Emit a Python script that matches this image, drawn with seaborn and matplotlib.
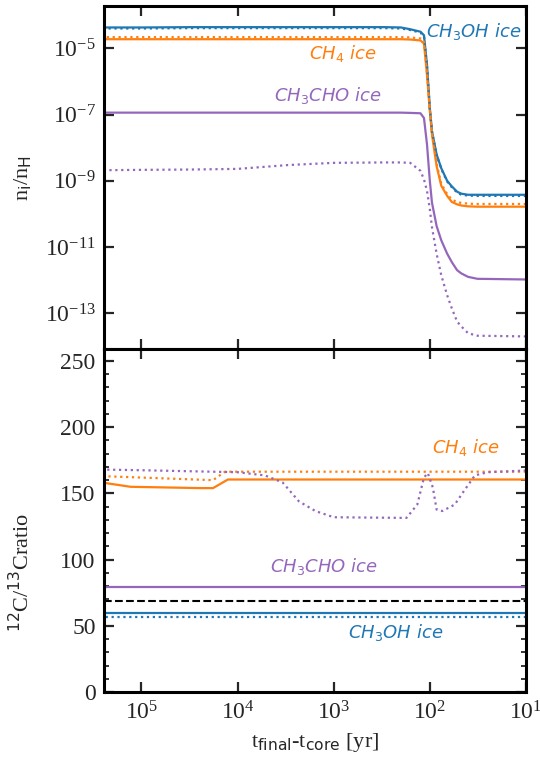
import matplotlib
matplotlib.use("Agg")
import matplotlib.pyplot as plt
import seaborn as sns
from matplotlib.ticker import FixedLocator, NullLocator, MultipleLocator

# ---- abundances relative to H (top panel) ----
t_abund = [2.45e5, 1e5, 3e4, 1e4, 3e3, 1e3, 300, 200, 160, 125, 115, 107,
           100, 95, 85, 76, 66, 59, 52, 47, 40, 32, 10]

ch3oh_a = [4.3e-5, 4.3e-5, 4.4e-5, 4.4e-5, 4.4e-5, 4.4e-5, 4.4e-5, 4.3e-5,
           3.8e-5, 3.2e-5, 2.5e-5, 3.2e-6, 1.6e-7, 3.2e-8, 6.3e-9, 2.4e-9,
           1.0e-9, 6.8e-10, 4.7e-10, 4.1e-10, 3.8e-10, 3.8e-10, 3.8e-10]
ch3oh_b = [4.0e-5, 4.0e-5, 4.1e-5, 4.1e-5, 4.1e-5, 4.1e-5, 4.1e-5, 4.0e-5,
           3.6e-5, 3.0e-5, 2.3e-5, 3.0e-6, 1.5e-7, 3.0e-8, 6.0e-9, 2.3e-9,
           9.5e-10, 6.4e-10, 4.4e-10, 3.8e-10, 3.6e-10, 3.5e-10, 3.5e-10]
ch4_a = [1.9e-5, 1.9e-5, 1.9e-5, 1.9e-5, 1.9e-5, 1.9e-5, 1.9e-5, 1.9e-5,
         1.86e-5, 1.74e-5, 1.4e-5, 1.6e-6, 1.3e-7, 2.5e-8, 2.8e-9, 7.1e-10,
         3.5e-10, 2.3e-10, 1.95e-10, 1.8e-10, 1.7e-10, 1.66e-10, 1.66e-10]
ch4_b = [2.2e-5, 2.2e-5, 2.2e-5, 2.2e-5, 2.2e-5, 2.2e-5, 2.2e-5, 2.2e-5,
         2.15e-5, 2.0e-5, 1.6e-5, 1.8e-6, 1.45e-7, 2.9e-8, 3.3e-9, 8.2e-10,
         4.0e-10, 2.7e-10, 2.3e-10, 2.15e-10, 2.05e-10, 2.0e-10, 2.0e-10]
ch3cho_a = [1.15e-7, 1.15e-7, 1.15e-7, 1.15e-7, 1.15e-7, 1.15e-7, 1.15e-7,
            1.15e-7, 1.13e-7, 1.1e-7, 7.9e-8, 1.26e-8, 1.0e-9, 2.2e-10,
            4.3e-11, 1.6e-11, 6.3e-12, 3.5e-12, 2.0e-12, 1.6e-12, 1.26e-12,
            1.1e-12, 1.05e-12]
ch3cho_b = [2.1e-9, 2.15e-9, 2.2e-9, 2.3e-9, 3.0e-9, 3.5e-9, 3.6e-9, 3.6e-9,
            3.5e-9, 2.0e-9, 1.1e-9, 5.0e-10, 1.4e-10, 4.0e-11, 6.3e-12,
            1.4e-12, 3.5e-13, 1.4e-13, 5.6e-14, 4.0e-14, 2.5e-14, 2.1e-14,
            2.0e-14]

# ---- 12C/13C ratios (bottom panel) ----
t_flat = [2.45e5, 10]
ratio_ch3oh_a = [60, 60]
ratio_ch3oh_b = [57, 57]
ratio_ch3cho_a = [79, 79]
ratio_reference = 69

t_ch4_a = [2.45e5, 1.3e5, 2.4e4, 1.8e4, 1.26e4, 10]
ratio_ch4_a = [158, 155, 154, 154, 160.5, 160.5]
t_ch4_b = [2.45e5, 1.8e4, 1.35e4, 10]
ratio_ch4_b = [163, 160, 166.4, 166.4]
t_ch3cho_b = [2.45e5, 1e5, 1e4, 5.2e3, 3.4e3, 2.3e3, 1.55e3, 1.0e3, 175, 135,
              115, 105, 93, 85, 74, 55, 44, 34, 25, 10]
ratio_ch3cho_b = [168, 167.5, 166, 163.6, 158.3, 144, 136.7, 132, 131.5, 141.6,
                  162, 165.4, 154.4, 137.8, 136.7, 141.6, 152, 163.6, 166, 167.3]

x_ticks = [1e5, 1e4, 1e3, 1e2, 1e1]
abund_ticks = [1e-5, 1e-7, 1e-9, 1e-11, 1e-13]

BLUE, ORANGE, PURPLE = "#1f77b4", "#ff7f0e", "#9467bd"

sns.set_style("ticks")
plt.rcParams["font.family"] = ["Liberation Serif", "DejaVu Serif"]
plt.rcParams["mathtext.fontset"] = "dejavusans"
plt.rcParams["axes.linewidth"] = 2.2

fig, (ax1, ax2) = plt.subplots(2, 1, figsize=(5.4, 7.63), dpi=100, sharex=True)
fig.subplots_adjust(left=0.1926, right=0.974, top=0.992, bottom=0.093, hspace=0)

lw = 1.6
# top panel: abundances
for vals, col in [(ch3oh_a, BLUE), (ch4_a, ORANGE), (ch3cho_a, PURPLE)]:
    sns.lineplot(x=t_abund, y=vals, ax=ax1, color=col, lw=lw)
for vals, col in [(ch3oh_b, BLUE), (ch4_b, ORANGE), (ch3cho_b, PURPLE)]:
    sns.lineplot(x=t_abund, y=vals, ax=ax1, color=col, lw=lw, linestyle=":")

# bottom panel: isotopic ratios
sns.lineplot(x=t_flat, y=ratio_ch3oh_a, ax=ax2, color=BLUE, lw=lw)
sns.lineplot(x=t_flat, y=ratio_ch3cho_a, ax=ax2, color=PURPLE, lw=lw)
sns.lineplot(x=t_ch4_a, y=ratio_ch4_a, ax=ax2, color=ORANGE, lw=lw)
sns.lineplot(x=t_flat, y=ratio_ch3oh_b, ax=ax2, color=BLUE, lw=lw, linestyle=":")
sns.lineplot(x=t_ch4_b, y=ratio_ch4_b, ax=ax2, color=ORANGE, lw=lw, linestyle=":")
sns.lineplot(x=t_ch3cho_b, y=ratio_ch3cho_b, ax=ax2, color=PURPLE, lw=lw, linestyle=":")
ax2.axhline(ratio_reference, color="black", lw=1.5, linestyle="--")

ax1.set_xscale("log")
ax1.set_yscale("log")
ax1.set_xlim(2.45e5, 10)
ax1.set_ylim(8.3e-15, 1.9e-4)
ax2.set_ylim(0, 259)

ax1.xaxis.set_major_locator(FixedLocator(x_ticks))
ax1.xaxis.set_minor_locator(NullLocator())
ax1.yaxis.set_major_locator(FixedLocator(abund_ticks))
ax1.yaxis.set_minor_locator(NullLocator())
ax2.yaxis.set_major_locator(MultipleLocator(50))
ax2.yaxis.set_minor_locator(MultipleLocator(10))

for ax in (ax1, ax2):
    ax.tick_params(which="major", direction="in", length=7, width=1.6,
                   top=True, right=True, labelsize=17, pad=6)
    ax.tick_params(which="minor", direction="in", length=3.5, width=1.3,
                   top=True, right=True)
    for s in ax.spines.values():
        s.set_color("black")
ax2.tick_params(axis="x", which="major", pad=7)

ax1.set_ylabel(r"n$_{\rm i}$/n$_{\rm H}$", fontsize=16)
ax1.yaxis.set_label_coords(-0.165, 0.5)
ax2.set_ylabel(r"$^{12}$C/$^{13}$Cratio", fontsize=16)
ax2.yaxis.set_label_coords(-0.165, 0.35)
ax2.set_xlabel(r"t$_{\rm final}$-t$_{\rm core}$ [yr]", fontsize=16)

lab = dict(fontsize=13, style="italic", family="DejaVu Sans",
           ha="center", va="center")
ax1.text(35, 3.3e-5, "CH$_3$OH ice", color=BLUE, **lab)
ax1.text(794, 7.2e-6, "CH$_4$ ice", color=ORANGE, **lab)
ax1.text(1150, 3.9e-7, "CH$_3$CHO ice", color=PURPLE, **lab)
ax2.text(42, 185, "CH$_4$ ice", color=ORANGE, **lab)
ax2.text(1260, 94.5, "CH$_3$CHO ice", color=PURPLE, **lab)
ax2.text(228, 44.6, "CH$_3$OH ice", color=BLUE, **lab)

fig.savefig("out.png", dpi=100)
